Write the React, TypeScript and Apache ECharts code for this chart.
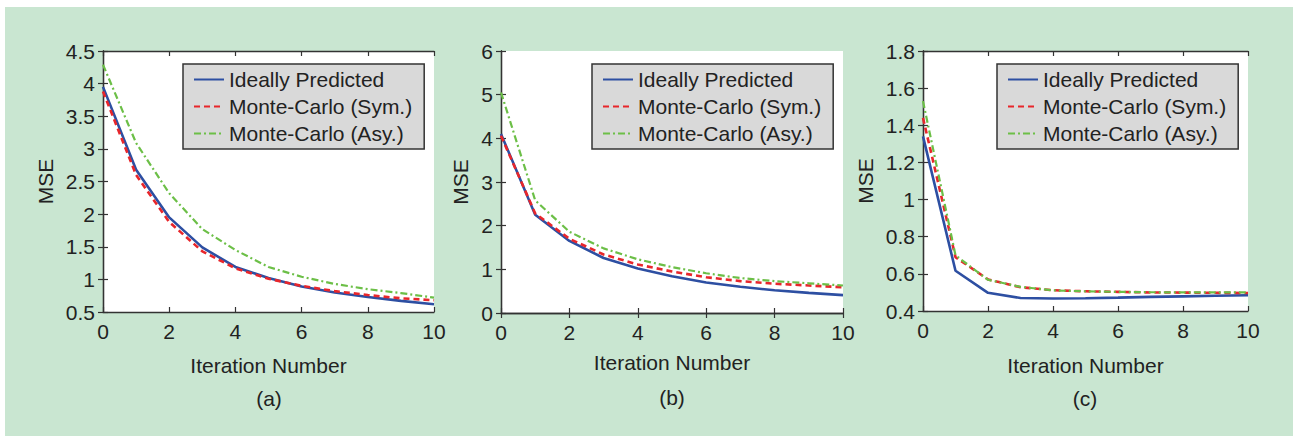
import React, { useEffect, useRef } from "react";
import * as echarts from "echarts";

const iterations = [0, 1, 2, 3, 4, 5, 6, 7, 8, 9, 10];
const seriesNames = ["Ideally Predicted", "Monte-Carlo (Sym.)", "Monte-Carlo (Asy.)"];

// Panel (a)
const aIdeal = [3.95, 2.68, 1.95, 1.49, 1.19, 1.02, 0.89, 0.8, 0.73, 0.67, 0.62];
const aSym = [3.88, 2.6, 1.88, 1.43, 1.17, 1.01, 0.9, 0.82, 0.76, 0.71, 0.68];
const aAsy = [4.29, 3.09, 2.32, 1.77, 1.45, 1.19, 1.04, 0.93, 0.85, 0.79, 0.72];

// Panel (b)
const bIdeal = [4.1, 2.25, 1.65, 1.26, 1.02, 0.84, 0.7, 0.6, 0.52, 0.46, 0.41];
const bSym = [4.06, 2.28, 1.7, 1.34, 1.11, 0.95, 0.82, 0.73, 0.67, 0.63, 0.59];
const bAsy = [5.05, 2.58, 1.86, 1.48, 1.23, 1.05, 0.91, 0.8, 0.73, 0.68, 0.63];

// Panel (c)
const cIdeal = [1.34, 0.617, 0.498, 0.47, 0.467, 0.469, 0.472, 0.476, 0.479, 0.482, 0.485];
const cSym = [1.44, 0.69, 0.57, 0.528, 0.512, 0.506, 0.503, 0.5, 0.499, 0.498, 0.497];
const cAsy = [1.53, 0.7, 0.568, 0.53, 0.511, 0.506, 0.503, 0.501, 0.5, 0.5, 0.5];

const yRanges = [
  { min: 0.5, max: 4.5, interval: 0.5 },
  { min: 0, max: 6, interval: 1 },
  { min: 0.4, max: 1.8, interval: 0.2 },
];
const captions = ["(a)", "(b)", "(c)"];

const FONT = "Liberation Sans, Arial, Helvetica, sans-serif";
const TXT = "#222";
const COLORS = ["#2d4fa2", "#e8262b", "#6cbf47"];

export default function App() {
  const ref = useRef<HTMLDivElement>(null);
  useEffect(() => {
    if (!ref.current) return;
    const chart = echarts.init(ref.current, null, { renderer: "svg" });
    const panels = [
      [aIdeal, aSym, aAsy],
      [bIdeal, bSym, bAsy],
      [cIdeal, cSym, cAsy],
    ];
    const grids = [
      { left: 103, top: 51, width: 331, height: 261 },
      { left: 501, top: 51, width: 342, height: 262 },
      { left: 923, top: 51, width: 325, height: 260 },
    ];
    const yNameGaps = [47, 30, 47];
    const xNameGaps = [43, 39, 44];
    const legendPos = [
      { left: 183, top: 64 },
      { left: 592, top: 64 },
      { left: 997, top: 64 },
    ];
    const captionPos = [
      { x: 269, y: 398 },
      { x: 672, y: 397 },
      { x: 1085, y: 398 },
    ];

    const xAxis: any[] = [];
    const yAxis: any[] = [];
    const series: any[] = [];
    const axisLine = { show: true, lineStyle: { color: "#333", width: 1.3 } };
    const tick = { show: true, inside: true, length: 5, lineStyle: { color: "#333", width: 1.2 } };
    const label = { color: TXT, fontSize: 21, fontFamily: FONT };
    const styles = [
      { color: COLORS[0], width: 2.6, type: "solid" },
      { color: COLORS[1], width: 2.6, type: [6, 4] },
      { color: COLORS[2], width: 2.2, type: [7, 3, 2, 3] },
    ];

    grids.forEach((g, i) => {
      xAxis.push({
        type: "value", gridIndex: i, min: 0, max: 10, interval: 2, position: "bottom",
        axisLine, axisTick: tick, splitLine: { show: false },
        axisLabel: { ...label, margin: 9 },
        name: "Iteration Number", nameLocation: "middle", nameGap: xNameGaps[i],
        nameTextStyle: { color: TXT, fontSize: 21, fontFamily: FONT },
      });
      xAxis.push({
        type: "value", gridIndex: i, min: 0, max: 10, interval: 2, position: "top",
        axisLine, axisTick: tick, splitLine: { show: false }, axisLabel: { show: false },
      });
      const yr = yRanges[i];
      yAxis.push({
        type: "value", gridIndex: i, min: yr.min, max: yr.max, interval: yr.interval, position: "left",
        axisLine, axisTick: tick, splitLine: { show: false },
        axisLabel: { ...label, margin: 8 },
        name: "MSE", nameLocation: "middle", nameGap: yNameGaps[i],
        nameTextStyle: { color: TXT, fontSize: 21, fontFamily: FONT },
      });
      yAxis.push({
        type: "value", gridIndex: i, min: yr.min, max: yr.max, interval: yr.interval, position: "right",
        axisLine, axisTick: tick, splitLine: { show: false }, axisLabel: { show: false },
      });
      panels[i].forEach((vals, k) => {
        series.push({
          type: "line",
          name: seriesNames[k],
          xAxisIndex: i * 2,
          yAxisIndex: i * 2,
          data: iterations.map((x, j) => [x, vals[j]]),
          symbol: "none",
          lineStyle: styles[k],
          itemStyle: { color: COLORS[k] },
          z: 2 + k,
        });
      });
    });

    const legend = legendPos.map((p) => ({
      data: seriesNames,
      left: p.left,
      top: p.top,
      orient: "vertical",
      itemWidth: 30,
      itemHeight: 14,
      itemGap: 6,
      selectedMode: false,
      backgroundColor: "#d9d9d9",
      borderColor: "#333",
      borderWidth: 1.5,
      borderRadius: 0,
      padding: [5, 12, 5, 10],
      itemStyle: { opacity: 0, borderWidth: 0 },
      textStyle: { color: TXT, fontSize: 21, fontFamily: FONT, lineHeight: 21, padding: [0, 0, 0, 0] },
    }));

    chart.setOption({
      animation: false,
      backgroundColor: "#ffffff",
      grid: grids.map((g) => ({ ...g, show: true, backgroundColor: "#ffffff", borderWidth: 0 })),
      xAxis,
      yAxis,
      series,
      legend,
      graphic: [
        {
          type: "rect",
          shape: { x: 5, y: 7, width: 1288, height: 429 },
          style: { fill: "#c9e6d1" },
          z: -10,
          silent: true,
        },
        ...captions.map((c, i) => ({
          type: "text",
          x: captionPos[i].x,
          y: captionPos[i].y,
          style: {
            text: c,
            fill: TXT,
            font: `21px ${FONT}`,
            textAlign: "center",
            textVerticalAlign: "middle",
          },
        })),
      ],
    });
    return () => chart.dispose();
  }, []);
  return (
    <div
      ref={ref}
      style={{ position: "absolute", left: 0, top: 0, width: 1297, height: 436 }}
    />
  );
}
